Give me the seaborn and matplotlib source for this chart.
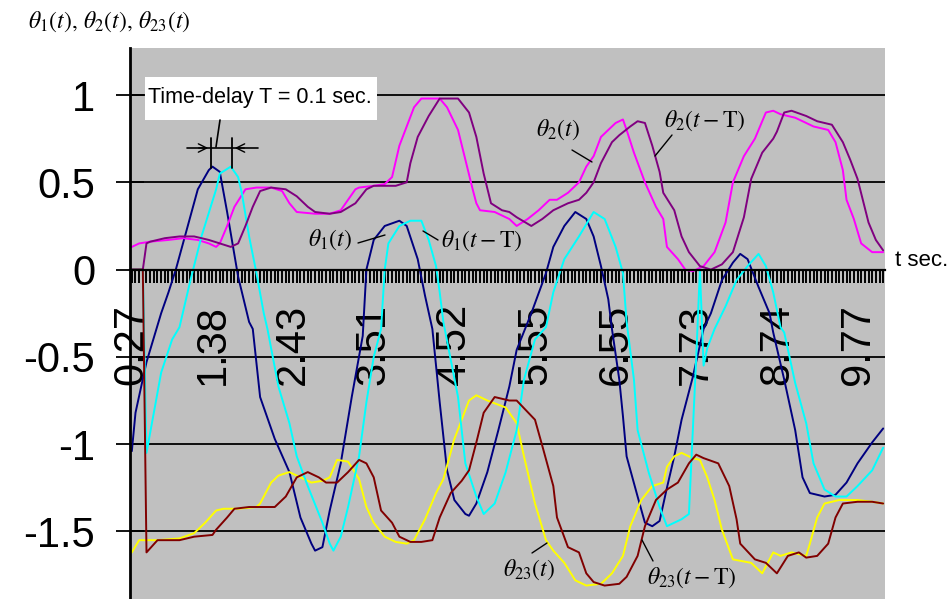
import matplotlib
matplotlib.use("Agg")
import matplotlib.pyplot as plt
import seaborn as sns
import pandas as pd
from matplotlib.lines import Line2D
from matplotlib.patches import Rectangle, FancyArrowPatch

sns.set_theme(style="white")
plt.rcParams['font.family'] = ['Liberation Sans', 'DejaVu Sans']
plt.rcParams['mathtext.fontset'] = 'stix'

# ---------------- data (x = sample index on the category axis) ----------------
tick_idx = [0, 22, 44, 66, 88, 110, 132, 154, 176, 198]
tick_labels = ["0.27", "1.38", "2.43", "3.51", "4.52", "5.55", "6.55", "7.73", "8.74", "9.77"]

th1_x = [0, 1, 4, 8, 10, 12, 15, 18, 21, 22, 24, 26, 29, 32, 33, 35, 39, 43, 46, 49, 50, 52, 54, 57, 60, 63, 64,
         66, 69, 73, 75, 78, 80, 82, 84, 86, 88, 91, 92, 94, 97, 100, 103, 105, 109, 113, 115, 118, 121, 124, 126,
         128, 130, 131, 133, 134, 135, 138, 140, 142, 144, 146, 148, 150, 153, 156, 158, 161, 164, 166, 168, 171,
         174, 175, 178, 181, 183, 185, 189, 192, 195, 198, 202, 205]
th1_y = [-1.04, -0.82, -0.53, -0.25, -0.13, 0.0, 0.23, 0.46, 0.57, 0.59, 0.56, 0.33, -0.04, -0.30, -0.34, -0.73,
         -0.97, -1.16, -1.42, -1.57, -1.61, -1.59, -1.38, -1.11, -0.73, -0.38, 0.0, 0.17, 0.25, 0.28, 0.25, 0.06,
         -0.15, -0.34, -0.76, -1.15, -1.32, -1.40, -1.41, -1.34, -1.16, -0.92, -0.67, -0.46, -0.25, -0.02, 0.13,
         0.25, 0.33, 0.29, 0.19, 0.02, -0.17, -0.34, -0.63, -0.84, -1.07, -1.30, -1.45, -1.47, -1.44, -1.25, -1.07,
         -0.86, -0.62, -0.34, -0.25, -0.06, 0.04, 0.09, 0.06, -0.10, -0.25, -0.36, -0.63, -0.92, -1.19, -1.28,
         -1.30, -1.29, -1.22, -1.11, -0.99, -0.91]

th1d_x = [0, 3, 4, 6, 8, 11, 13, 16, 19, 23, 24, 27, 29, 30, 32, 34, 36, 37, 40, 43, 45, 48, 52, 54, 55, 57, 59,
          62, 64, 66, 68, 69, 70, 73, 76, 79, 81, 83, 84, 85, 89, 91, 94, 96, 99, 102, 105, 107, 110, 113, 115,
          118, 122, 126, 129, 132, 134, 135, 137, 138, 141, 144, 146, 148, 150, 152, 154, 155, 156, 157, 159,
          162, 165, 168, 171, 173, 175, 177, 178, 181, 184, 186, 189, 192, 195, 198, 202, 205]
th1d_y = [0.0, 0.0, -1.05, -0.82, -0.59, -0.40, -0.33, -0.06, 0.19, 0.46, 0.55, 0.59, 0.53, 0.44, 0.19, -0.02,
          -0.25, -0.34, -0.67, -0.88, -1.07, -1.24, -1.45, -1.57, -1.61, -1.53, -1.36, -1.07, -0.76, -0.50, -0.34,
          0.0, 0.15, 0.25, 0.28, 0.28, 0.17, 0.02, -0.13, -0.30, -0.73, -1.11, -1.30, -1.40, -1.34, -1.16, -0.92,
          -0.63, -0.40, -0.33, -0.13, 0.06, 0.19, 0.33, 0.29, 0.13, -0.02, -0.30, -0.63, -0.92, -1.16, -1.36,
          -1.47, -1.45, -1.43, -1.40, -0.50, 0.0, -0.55, -0.45, -0.34, -0.21, -0.06, 0.02, 0.09, 0.02, -0.13,
          -0.33, -0.36, -0.65, -0.88, -1.11, -1.26, -1.30, -1.30, -1.24, -1.15, -1.02]

th2_x = [0, 2, 5, 10, 14, 18, 21, 23, 24, 26, 28, 31, 34, 38, 41, 43, 45, 50, 54, 57, 61, 62, 66, 69, 71, 73, 75,
         77, 79, 84, 86, 89, 91, 93, 94, 95, 99, 103, 105, 108, 111, 114, 116, 119, 122, 124, 126, 128, 132, 134,
         135, 137, 140, 143, 145, 146, 149, 151, 153, 156, 159, 162, 164, 167, 170, 173, 175, 177, 181, 184, 186,
         190, 192, 194, 195, 197, 199, 202, 205]
th2_y = [0.13, 0.15, 0.16, 0.17, 0.18, 0.17, 0.15, 0.13, 0.15, 0.25, 0.36, 0.46, 0.47, 0.47, 0.45, 0.38, 0.33,
         0.32, 0.32, 0.34, 0.46, 0.47, 0.48, 0.49, 0.53, 0.71, 0.82, 0.93, 0.98, 0.98, 0.93, 0.80, 0.63, 0.46,
         0.38, 0.34, 0.33, 0.29, 0.25, 0.29, 0.34, 0.40, 0.40, 0.44, 0.50, 0.59, 0.65, 0.76, 0.84, 0.86, 0.80,
         0.67, 0.50, 0.36, 0.29, 0.13, 0.06, 0.0, -0.01, 0.02, 0.10, 0.27, 0.50, 0.65, 0.75, 0.90, 0.91, 0.89,
         0.87, 0.84, 0.82, 0.80, 0.73, 0.57, 0.40, 0.29, 0.15, 0.10, 0.10]

th2d_x = [0, 3, 4, 5, 9, 13, 17, 21, 24, 27, 29, 31, 33, 35, 38, 42, 45, 48, 50, 54, 57, 61, 64, 66, 72, 75, 76,
          78, 81, 84, 89, 92, 94, 96, 98, 101, 103, 105, 109, 112, 115, 119, 122, 124, 126, 128, 131, 133, 136,
          138, 140, 142, 144, 145, 148, 150, 152, 155, 158, 161, 164, 167, 169, 172, 175, 176, 178, 180, 184, 187,
          191, 194, 196, 198, 201, 203, 205]
th2d_y = [0.0, 0.0, 0.15, 0.16, 0.18, 0.19, 0.19, 0.17, 0.15, 0.13, 0.15, 0.25, 0.36, 0.45, 0.47, 0.46, 0.42,
          0.36, 0.33, 0.32, 0.33, 0.38, 0.46, 0.48, 0.48, 0.50, 0.61, 0.76, 0.88, 0.98, 0.98, 0.90, 0.76, 0.55,
          0.38, 0.34, 0.33, 0.30, 0.25, 0.29, 0.34, 0.38, 0.40, 0.44, 0.50, 0.61, 0.73, 0.77, 0.82, 0.85, 0.84,
          0.71, 0.56, 0.44, 0.34, 0.19, 0.10, 0.02, 0.0, 0.03, 0.10, 0.30, 0.52, 0.67, 0.75, 0.79, 0.90, 0.91,
          0.88, 0.85, 0.83, 0.73, 0.63, 0.52, 0.27, 0.17, 0.11]

th23_x = [0, 2, 7, 13, 17, 20, 23, 25, 29, 34, 35, 38, 40, 43, 46, 49, 52, 54, 56, 59, 62, 64, 66, 69, 72, 75, 77,
          80, 83, 85, 88, 90, 92, 94, 97, 102, 105, 107, 110, 113, 115, 118, 121, 124, 128, 131, 134, 136, 139,
          142, 145, 146, 148, 150, 153, 155, 157, 159, 161, 164, 169, 172, 175, 177, 180, 184, 185, 187, 189, 193,
          198, 202, 205]
th23_y = [-1.62, -1.55, -1.55, -1.54, -1.51, -1.45, -1.38, -1.37, -1.37, -1.36, -1.34, -1.22, -1.18, -1.16,
          -1.19, -1.22, -1.21, -1.19, -1.09, -1.10, -1.20, -1.36, -1.45, -1.53, -1.56, -1.57, -1.55, -1.43, -1.28,
          -1.20, -0.97, -0.86, -0.75, -0.72, -0.75, -0.79, -0.88, -1.07, -1.34, -1.55, -1.61, -1.68, -1.78, -1.81,
          -1.80, -1.74, -1.64, -1.47, -1.32, -1.24, -1.22, -1.13, -1.07, -1.05, -1.08, -1.09, -1.19, -1.32, -1.49,
          -1.66, -1.68, -1.74, -1.62, -1.64, -1.62, -1.64, -1.57, -1.42, -1.34, -1.32, -1.32, -1.33, -1.34]

th23d_x = [0, 3, 4, 7, 13, 17, 22, 23, 26, 28, 32, 39, 42, 45, 48, 51, 53, 56, 59, 62, 64, 66, 68, 71, 73, 76, 79,
           82, 84, 87, 90, 92, 94, 96, 99, 103, 105, 110, 112, 115, 116, 119, 122, 124, 126, 129, 133, 135, 138,
           140, 143, 146, 149, 152, 154, 156, 160, 163, 165, 166, 170, 173, 176, 179, 182, 184, 187, 190, 192,
           194, 198, 202, 205]
th23d_y = [0.0, 0.0, -1.62, -1.55, -1.55, -1.53, -1.52, -1.49, -1.42, -1.37, -1.36, -1.36, -1.30, -1.19, -1.16,
           -1.19, -1.22, -1.22, -1.16, -1.09, -1.11, -1.19, -1.38, -1.45, -1.53, -1.56, -1.56, -1.55, -1.42, -1.28,
           -1.21, -1.15, -0.99, -0.82, -0.73, -0.75, -0.75, -0.86, -1.01, -1.24, -1.42, -1.59, -1.62, -1.74, -1.79,
           -1.81, -1.80, -1.76, -1.64, -1.47, -1.32, -1.26, -1.22, -1.11, -1.06, -1.08, -1.11, -1.24, -1.43, -1.57,
           -1.66, -1.68, -1.74, -1.64, -1.62, -1.65, -1.64, -1.57, -1.42, -1.34, -1.33, -1.33, -1.34]

series = [
    (th1_x, th1_y, "#000080"),
    (th2_x, th2_y, "#FF00FF"),
    (th23_x, th23_y, "#FFFF00"),
    (th1d_x, th1d_y, "#00FFFF"),
    (th2d_x, th2d_y, "#800080"),
    (th23d_x, th23d_y, "#800000"),
]

# ---------------- figure ----------------
W, H = 953, 599
fig = plt.figure(figsize=(W / 100, H / 100), dpi=100)
fig.patch.set_facecolor("white")
ax = fig.add_axes([130 / W, 0, (885 - 130) / W, (599 - 48) / H])
ax.set_facecolor("#C0C0C0")

for xs, ys, col in series:
    df = pd.DataFrame({"x": xs, "y": ys})
    sns.lineplot(data=df, x="x", y="y", ax=ax, color=col, lw=1.4, estimator=None, sort=False)

ax.set_xlim(-0.5, 205.5)
ax.set_ylim(-1.887, 1.2695)
ax.set_xlabel("")
ax.set_ylabel("")

# spines
for s in ["top", "right"]:
    ax.spines[s].set_visible(False)
ax.spines["left"].set_color("black")
ax.spines["left"].set_linewidth(2)
ax.spines["bottom"].set_position(("data", 0))
ax.spines["bottom"].set_color("black")
ax.spines["bottom"].set_linewidth(1.6)
ax.spines["bottom"].set_zorder(5)

# y axis
yt = [1, 0.5, 0, -0.5, -1, -1.5]
ax.set_yticks(yt)
ax.set_yticklabels(["1", "0.5", "0", "-0.5", "-1", "-1.5"])
ax.yaxis.grid(True, color="black", lw=1.3, zorder=0)
ax.set_axisbelow(True)
ax.tick_params(axis="y", direction="inout", length=20, width=1.3, color="black", pad=15,
               labelsize=30, labelcolor="black", left=True)

# x axis (category axis, tick mark on every sample)
ax.set_xticks(tick_idx)
ax.set_xticklabels(tick_labels, rotation=90)
ax.set_xticks(list(range(0, 206)), minor=True)
ax.tick_params(axis="x", which="both", direction="out", length=9.5, width=1.4, color="black", bottom=True)
ax.tick_params(axis="x", which="major", pad=15, labelsize=30, labelcolor="black")


def P(px, py):
    return (px / W, 1 - py / H)


def line(p1, p2, lw=1.0):
    (x1, y1), (x2, y2) = P(*p1), P(*p2)
    fig.add_artist(Line2D([x1, x2], [y1, y2], transform=fig.transFigure, color="black", lw=lw, zorder=20))


# time-delay box
bx0, by0 = P(145, 120)
bx1, by1 = P(377, 77)
fig.add_artist(Rectangle((bx0, by0), bx1 - bx0, by1 - by0, transform=fig.transFigure,
                         facecolor="white", edgecolor="none", zorder=15))
fig.text(*P(148, 97), "Time-delay T = 0.1 sec.", fontsize=15.5, color="black", ha="left", va="center", zorder=16)

# delay marker
line((211, 138), (211, 168), lw=1.3)
line((232, 138), (232, 168), lw=1.3)
line((187, 148), (258, 148), lw=1.2)
line((220, 120), (216, 147), lw=1.2)
for tip, tail in [((211, 148), (196, 148)), ((232, 148), (247, 148))]:
    fig.add_artist(FancyArrowPatch(P(*tail), P(*tip), transform=fig.transFigure,
                                   arrowstyle="->,head_length=6,head_width=3",
                                   color="black", lw=1.0, zorder=20))

# curve labels
lab_kw = dict(fontsize=17, color="black", ha="left", va="center", zorder=20)
fig.text(*P(308, 240), r"$\theta_1(t)$", **lab_kw)
line((358, 243), (385, 235))
fig.text(*P(441, 241), r"$\theta_1(t - \mathrm{T})$", **lab_kw)
line((423, 231), (438, 240))
fig.text(*P(536, 130), r"$\theta_2(t)$", **lab_kw)
line((572, 150), (592, 162))
fig.text(*P(664, 121), r"$\theta_2(t - \mathrm{T})$", **lab_kw)
line((672, 135), (655, 156))
fig.text(*P(503, 570), r"$\theta_{23}(t)$", **lab_kw)
line((532, 553), (547, 543))
fig.text(*P(647, 578), r"$\theta_{23}(t - \mathrm{T})$", **lab_kw)
line((653, 561), (642, 540))

fig.text(*P(28, 22), r"$\theta_1(t),\,\theta_2(t),\,\theta_{23}(t)$", fontsize=17, color="black",
         ha="left", va="center")
fig.text(*P(895, 260), "t sec.", fontsize=16, color="black", ha="left", va="center")

fig.savefig("out.png", dpi=100)
